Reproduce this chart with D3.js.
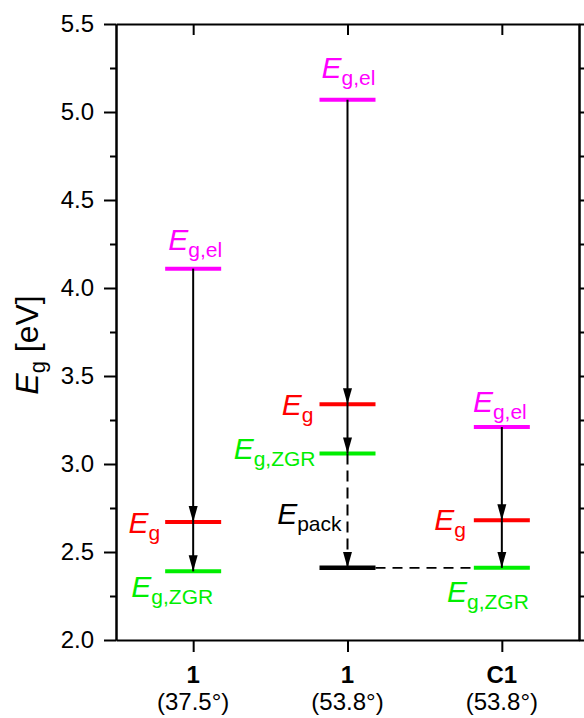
<!DOCTYPE html>
<html>
<head>
<meta charset="utf-8">
<script src="https://cdn.jsdelivr.net/npm/d3@7"></script>
<style>
  body { margin: 0; background: #fff; }
  text { font-family: "Liberation Sans", Arial, sans-serif; }
</style>
</head>
<body>
<svg id="chart"></svg>
<script>
// values
const categories = ["1", "1", "C1"];
const angles = ["(37.5°)", "(53.8°)", "(53.8°)"];
const egEl = [4.11, 5.07, 3.21];
const eg = [2.67, 3.34, 2.68];
const egZgr = [2.39, 3.06, 2.41];
const ePack = [null, 2.41, null];
const yMajor = [2.0, 2.5, 3.0, 3.5, 4.0, 4.5, 5.0, 5.5];
const yMinor = [2.25, 2.75, 3.25, 3.75, 4.25, 4.75, 5.25];

const W = 584, H = 718;
const margin = { top: 24, right: 5, bottom: 78, left: 116 };
const colEl = "#ff00ff", colEg = "#ff0000", colZgr = "#00ee00";

const svg = d3.select("#chart").attr("width", W).attr("height", H);

const ids = categories.map((c, i) => i);
const x = d3.scalePoint().domain(ids).range([margin.left, W - margin.right]).padding(0.5);
const y = d3.scaleLinear().domain([2, 5.5]).range([H - margin.bottom, margin.top]);
const x0 = margin.left, x1 = W - margin.right, yTop = margin.top, yBot = H - margin.bottom;

svg.append("defs").append("marker")
    .attr("id", "head")
    .attr("viewBox", "0 -5 16 10")
    .attr("markerUnits", "userSpaceOnUse")
    .attr("markerWidth", 16).attr("markerHeight", 10)
    .attr("refX", 16).attr("refY", 0)
    .attr("orient", "auto")
  .append("path").attr("d", "M0,-4.5L16,0L0,4.5Z").attr("fill", "#000");

// axes
function styleAxis(g) {
  g.selectAll("path, line").attr("stroke", "#000").attr("stroke-width", 2);
  g.selectAll("text").attr("fill", "#000").style("font-size", "24px")
    .style("font-family", "'Liberation Sans', Arial, sans-serif");
}
const fmt = d3.format(".1f");
svg.append("g").attr("transform", `translate(${x0},0)`)
    .call(d3.axisLeft(y).tickValues(yMajor).tickSize(12).tickSizeOuter(0).tickPadding(10).tickFormat(fmt))
    .call(styleAxis);
svg.append("g").attr("transform", `translate(${x0},0)`)
    .call(d3.axisLeft(y).tickValues(yMinor).tickSize(6).tickSizeOuter(0).tickFormat(""))
    .call(styleAxis);
svg.append("g").attr("transform", `translate(${x1},0)`)
    .call(d3.axisRight(y).tickValues(yMajor).tickSize(12).tickSizeOuter(0).tickFormat(""))
    .call(styleAxis);
svg.append("g").attr("transform", `translate(${x1},0)`)
    .call(d3.axisRight(y).tickValues(yMinor).tickSize(6).tickSizeOuter(0).tickFormat(""))
    .call(styleAxis);
svg.append("g").attr("transform", `translate(0,${yTop})`)
    .call(d3.axisBottom(x).tickSize(11).tickSizeOuter(0).tickFormat(""))
    .call(styleAxis);
svg.append("g").attr("transform", `translate(0,${yBot})`)
    .call(d3.axisBottom(x).tickSize(12).tickSizeOuter(0).tickFormat(""))
    .call(styleAxis);

// category labels
ids.forEach(i => {
  svg.append("text").attr("x", x(i)).attr("y", yBot + 43)
    .attr("text-anchor", "middle").style("font-size", "24px").style("font-weight", "bold")
    .text(categories[i]);
  svg.append("text").attr("x", x(i)).attr("y", yBot + 70)
    .attr("text-anchor", "middle").style("font-size", "24px")
    .text(angles[i]);
});

// y title
const yt = svg.append("text")
    .attr("transform", `translate(38,345) rotate(-90)`)
    .attr("text-anchor", "middle").style("font-size", "32px");
yt.append("tspan").style("font-style", "italic").text("E");
yt.append("tspan").style("font-size", "22px").attr("dy", 7).text("g");
yt.append("tspan").attr("dy", -7).text(" [eV]");

// level lines
const half = 28;
function level(i, v, color, w) {
  svg.append("line")
    .attr("x1", x(i) - half).attr("x2", x(i) + half)
    .attr("y1", y(v)).attr("y2", y(v))
    .attr("stroke", color).attr("stroke-width", w);
}
ids.forEach(i => {
  level(i, egEl[i], colEl, 4);
  level(i, eg[i], colEg, 4);
  level(i, egZgr[i], colZgr, 4);
  if (ePack[i] != null) level(i, ePack[i], "#000", 4.5);
});

// dashed link from packing level to C1 level
svg.append("line")
  .attr("x1", x(1) + half).attr("x2", x(2) - half)
  .attr("y1", y(ePack[1])).attr("y2", y(egZgr[2]))
  .attr("stroke", "#000").attr("stroke-width", 1.8).attr("stroke-dasharray", "10,7");

// arrows
function arrow(i, from, to, dashed) {
  svg.append("line")
    .attr("x1", x(i)).attr("x2", x(i))
    .attr("y1", y(from)).attr("y2", y(to))
    .attr("stroke", "#000").attr("stroke-width", 2)
    .attr("stroke-dasharray", dashed ? "11,6" : null)
    .attr("marker-end", "url(#head)");
}
ids.forEach(i => {
  arrow(i, egEl[i], eg[i]);
  arrow(i, eg[i], egZgr[i]);
  if (ePack[i] != null) arrow(i, egZgr[i], ePack[i], true);
});

// labels: [category, value, main, sub, color, anchor, dx, dy]
const labelSpecs = [
  [0, egEl[0], "E", "g,el", colEl, "middle", 2, -19],
  [1, egEl[1], "E", "g,el", colEl, "middle", 1, -22],
  [2, egEl[2], "E", "g,el", colEl, "middle", -2, -15],
  [0, eg[0], "E", "g", colEg, "end", -33, 11],
  [1, eg[1], "E", "g", colEg, "end", -34, 11],
  [2, eg[2], "E", "g", colEg, "end", -36, 10],
  [0, egZgr[0], "E", "g,ZGR", colZgr, "end", 20, 26],
  [1, egZgr[1], "E", "g,ZGR", colZgr, "end", -32, 6],
  [2, egZgr[2], "E", "g,ZGR", colZgr, "end", 27, 34],
  [1, ePack[1], "E", "pack", "#000", "end", -6, -44]
];
labelSpecs.forEach(([i, v, main, sub, color, anchor, dx, dy]) => {
  const t = svg.append("text")
    .attr("x", x(i) + dx).attr("y", y(v) + dy)
    .attr("text-anchor", anchor).attr("fill", color)
    .style("font-size", "30px");
  t.append("tspan").style("font-style", "italic").text(main);
  t.append("tspan").style("font-size", "21px").attr("dy", 7).text(sub);
});
</script>
</body>
</html>
